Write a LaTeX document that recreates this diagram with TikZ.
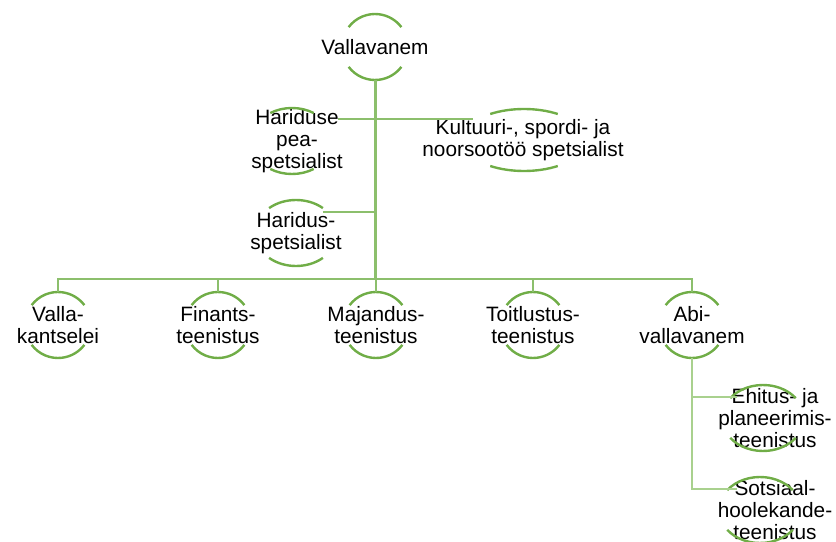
\documentclass[tikz,border=0pt]{standalone}
\usepackage{fontspec}
\setmainfont{Liberation Sans}
\usetikzlibrary{positioning,calc}
\definecolor{arcgreen}{HTML}{70AD47}
\definecolor{linegreen}{HTML}{8CBF6C}
\definecolor{palegreen}{HTML}{A9D18E}

\begin{document}
\begin{tikzpicture}[
    x=0.75pt, y=-0.75pt,
    unit/.style={rectangle, inner sep=0pt, align=center, minimum height=49.5pt,
        font=\fontsize{15.6}{16.5}\selectfont},
    arcline/.style={arcgreen, line width=1.8pt},
    trunk/.style={linegreen, line width=2.25pt},
    branch/.style={linegreen, line width=1.9pt},
    subbranch/.style={palegreen, line width=1.9pt}
]
\useasboundingbox (0,0) rectangle (836,542);

% Top
\node[unit] (top) at (375,47) {Vallavanem};

% Staff
\node[unit] (hpea) at (297,141) {Hariduse\\pea-\\spetsialist};
\node[unit, minimum height=46.5pt] (kult) at (523,140) {Kultuuri-, spordi- ja\\noorsootöö spetsialist};
\node[unit] (hspec) at (296,233) {Haridus-\\spetsialist};

% Departments
\node[unit] (kants) at (58,325) {Valla-\\kantselei};
\node[unit] (fin) at (218,325) {Finants-\\teenistus};
\node[unit] (maj) at (376,325) {Majandus-\\teenistus};
\node[unit] (toit) at (533,325) {Toitlustus-\\teenistus};
\node[unit] (abi) at (692,325) {Abi-\\vallavanem};

% Under Abi-vallavanem
\node[unit] (ehit) at (775,418) {Ehitus- ja\\planeerimis-\\teenistus};
\node[unit] (sots) at (775,510) {Sotsiaal-\\hoolekande-\\teenistus};

% Arcs (node / shift / x radius / y radius / angle)
\foreach \n/\dx/\a/\b/\t in {top/0/33/33/37, hpea/-5/41/33/58, kult/1/62/31/57,
    hspec/0/41/33/49, kants/0/33/33/37, fin/0/33/33/37, maj/0/33/33/37,
    toit/0/33/33/37, abi/0/33/33/37, ehit/-12/41/33/37, sots/-15/41/33/37}{
  \draw[arcline] ([shift={(180-\t:{\a*0.75pt} and {\b*0.75pt})}, xshift=\dx*0.75pt]\n.center)
      arc[start angle=180-\t, end angle=\t, x radius=\a*0.75pt, y radius=\b*0.75pt];
  \draw[arcline] ([shift={(180+\t:{\a*0.75pt} and {\b*0.75pt})}, xshift=\dx*0.75pt]\n.center)
      arc[start angle=180+\t, end angle=360-\t, x radius=\a*0.75pt, y radius=\b*0.75pt];
}

% Connectors
\coordinate (busmid) at (top |- 0,279);
\draw[trunk] (top.south) -- (busmid);
\draw[branch] ($(hpea.east)+(-5,-22)$) -- ($(kult.west)+(51,-21)$);
\draw[branch] ($(hspec.east)+(-19,-21)$) coordinate (hs) -- (hs -| top);
\draw[branch] (kants.north) -- (kants.north |- busmid) -- (abi.north |- busmid) -- (abi.north);
\foreach \n in {fin,maj,toit}
  \draw[branch] (\n.north) -- (\n.north |- busmid);
\draw[subbranch] (abi.south) |- ($(sots.west)+(20,-21)$);
\draw[subbranch] ($(ehit.west)+(19,-21)$) coordinate (eh) -- (eh -| abi);

\end{tikzpicture}
\end{document}
